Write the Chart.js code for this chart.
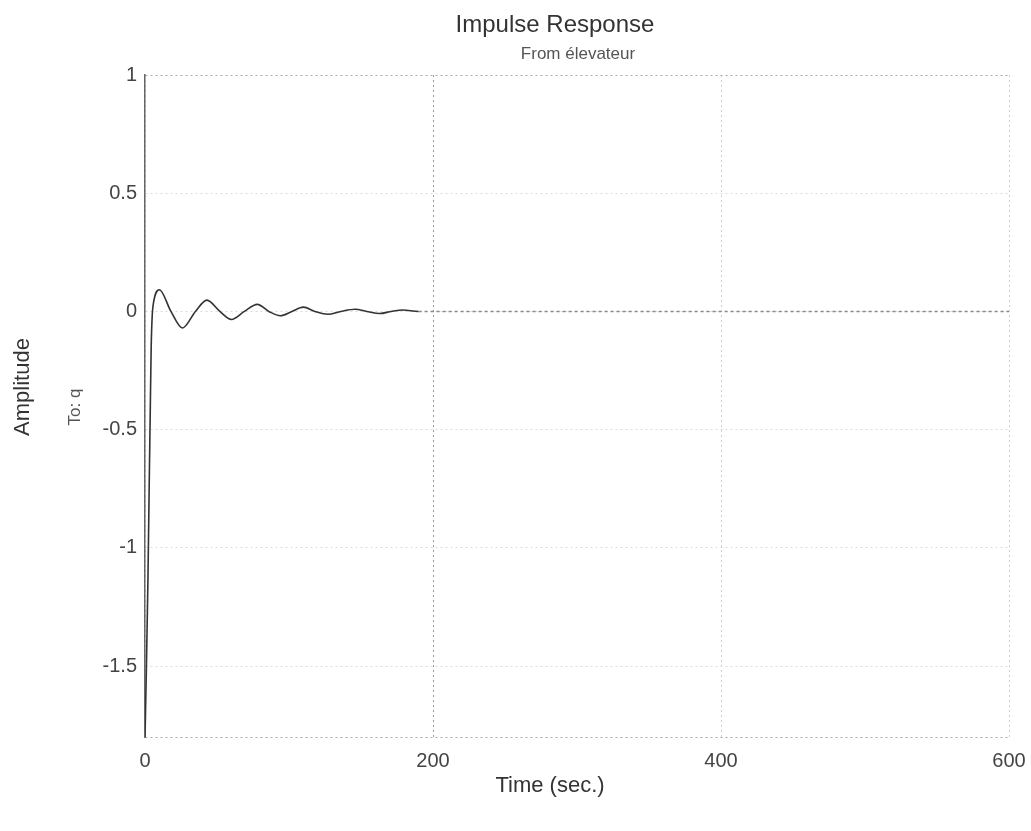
<!DOCTYPE html>
<html>
<head>
<meta charset="utf-8">
<script src="https://cdn.jsdelivr.net/npm/chart.js@4.4.1/dist/chart.umd.min.js"></script>
<style>
  body { margin: 0; background: #fff; }
  canvas { display: block; }
</style>
</head>
<body>
<canvas id="impulse" width="1031" height="831"></canvas>
<script>
// Valeurs (réponse impulsionnelle de q)
const temps = [0, 1, 2, 3, 3.7, 4.3, 5, 6, 10, 18, 26, 35, 43, 52, 60, 69, 78, 86, 94, 102,
  110, 118, 127, 136, 146, 154, 163, 171, 179, 190, 250, 350, 450, 600];
const amplitude = [-1.8, -1.5, -1.15, -0.7, -0.4, -0.15, -0.02, 0.04, 0.092, 0, -0.07, 0, 0.048, 0, -0.034, 0,
  0.03, 0, -0.018, 0, 0.018, 0, -0.012, 0, 0.009, 0, -0.009, 0, 0.006, 0, 0, 0, 0, 0];
const xTicks = [0, 200, 400, 600];
const yTicks = [1, 0.5, 0, -0.5, -1, -1.5];
const yMin = -1.8;
const yMax = 1;

// Textes dessinés autour du graphe
const textes = {
  id: "textes",
  afterDraw(chart) {
    const ctx = chart.ctx;
    ctx.save();
    ctx.textAlign = "center";
    ctx.textBaseline = "middle";
    ctx.fillStyle = "#333";
    ctx.font = "24px 'Liberation Sans', Arial, sans-serif";
    ctx.fillText("Impulse Response", 555, 25);
    ctx.fillStyle = "#555";
    ctx.font = "17px 'Liberation Sans', Arial, sans-serif";
    ctx.fillText("From élevateur", 578, 54);
    ctx.fillStyle = "#333";
    ctx.font = "22px 'Liberation Sans', Arial, sans-serif";
    ctx.fillText("Time (sec.)", 550, 786);
    ctx.translate(23, 387);
    ctx.rotate(-Math.PI / 2);
    ctx.fillText("Amplitude", 0, 0);
    ctx.restore();
    ctx.save();
    ctx.textAlign = "center";
    ctx.textBaseline = "middle";
    ctx.fillStyle = "#555";
    ctx.font = "17px 'Liberation Sans', Arial, sans-serif";
    ctx.translate(75, 407);
    ctx.rotate(-Math.PI / 2);
    ctx.fillText("To: q", 0, 0);
    ctx.restore();
  },
};

new Chart(document.getElementById("impulse").getContext("2d"), {
  type: "line",
  data: {
    datasets: [
      {
        data: temps.map((t, i) => ({ x: t, y: amplitude[i] })),
        borderColor: "#333",
        borderWidth: 1.6,
        pointRadius: 0,
        cubicInterpolationMode: "monotone",
        fill: false,
        segment: {
          borderColor: (c) => (c.p0.parsed.x >= 190 ? "#888" : undefined),
          borderDash: (c) => (c.p0.parsed.x >= 190 ? [3, 3] : undefined),
        },
      },
    ],
  },
  plugins: [textes],
  options: {
    responsive: false,
    animation: false,
    devicePixelRatio: 1,
    layout: { padding: { top: 75, right: 22, left: 0, bottom: 0 } },
    plugins: {
      legend: { display: false },
      tooltip: { enabled: false },
    },
    scales: {
      x: {
        type: "linear",
        min: 0,
        max: 600,
        afterBuildTicks: (s) => { s.ticks = xTicks.map((v) => ({ value: v })); },
        afterFit: (s) => {
          s.height = 94;
          s.paddingLeft = 0;
          s.paddingRight = 0;
        },
        ticks: {
          callback: (v) => String(v),
          color: "#444",
          padding: 12,
          maxRotation: 0,
          font: { family: "'Liberation Sans', Arial, sans-serif", size: 20 },
        },
        grid: {
          drawTicks: false,
          color: (c) => (c.tick && c.tick.value === 200 ? "#999" : "#cfcfcf"),
        },
        border: { display: false, dash: [2, 3] },
      },
      y: {
        min: yMin,
        max: yMax,
        afterBuildTicks: (s) => {
          s.ticks = yTicks.map((v) => ({ value: v })).concat([{ value: yMin }]);
        },
        afterFit: (s) => { s.width = 145; },
        ticks: {
          callback: (v) => (v === yMin ? "" : String(v)),
          color: "#444",
          padding: 8,
          font: { family: "'Liberation Sans', Arial, sans-serif", size: 20 },
        },
        grid: {
          drawTicks: false,
          color: (c) => (c.tick && (c.tick.value === 1 || c.tick.value === yMin) ? "#aaa" : "#dadada"),
        },
        border: { display: true, color: "#666", width: 1.5, dash: [2, 3] },
      },
    },
  },
});
</script>
</body>
</html>
